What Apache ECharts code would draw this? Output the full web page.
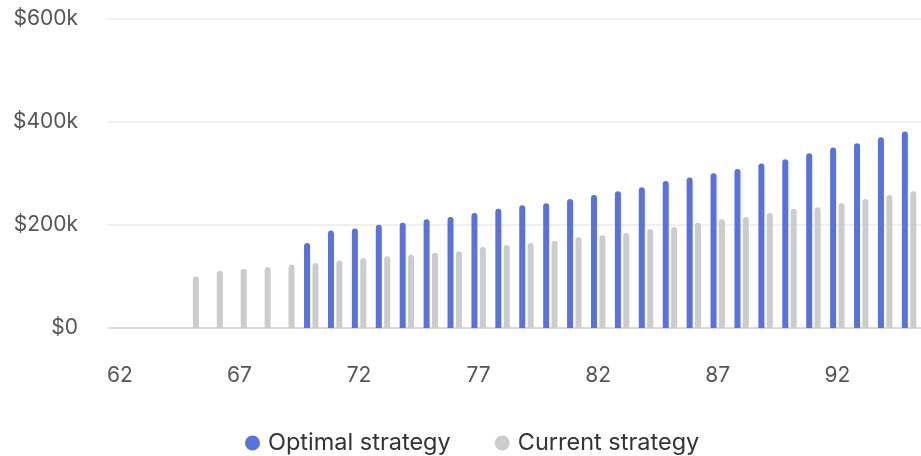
<!DOCTYPE html>
<html>
<head>
<meta charset="utf-8">
<script src="https://cdn.jsdelivr.net/npm/echarts@6/dist/echarts.min.js"></script>
<style>
html,body{margin:0;padding:0;background:#fff;}
#chart{width:921px;height:456px;}
</style>
</head>
<body>
<div id="chart"></div>
<script>
var ages = [62,63,64,65,66,67,68,69,70,71,72,73,74,75,76,77,78,79,80,81,82,83,84,85,86,87,88,89,90,91,92,93,94,95];
var optimalK = [null,null,null,null,null,null,null,null,165,189,193,200,204,211,215,223,231,238,242,250,258,265,273,285,292,300,308,319,327,339,350,358,370,381];
var currentK = [null,null,null,100,111,115,118,123,126,131,135,139,142,146,149,157,161,165,169,176,180,184,192,196,204,211,215,223,231,234,242,250,258,265];
var yTicks = [0, 200000, 400000, 600000];
var seriesNames = ['Optimal strategy', 'Current strategy'];

function toDollars(arr){ return arr.map(function(v){ return v == null ? null : v * 1000; }); }

var FONT = 'Inter, "Noto Sans", sans-serif';
var chart = echarts.init(document.getElementById('chart'));
chart.setOption({
  animation: false,
  backgroundColor: '#ffffff',
  grid: { left: 108, right: -10, top: 18.5, bottom: 128, containLabel: false },
  legend: {
    data: seriesNames,
    left: 240,
    top: 426,
    icon: 'circle',
    itemWidth: 15,
    itemHeight: 15,
    itemGap: 44,
    textStyle: { fontFamily: FONT, fontSize: 23.5, color: '#333333', padding: [0,0,0,3] }
  },
  xAxis: {
    type: 'category',
    data: ages.map(String),
    axisTick: { show: false },
    axisLine: { lineStyle: { color: '#d6d2ca', width: 1.5 } },
    axisLabel: { interval: 4, margin: 37, fontFamily: FONT, fontSize: 21, color: '#555555' }
  },
  yAxis: {
    type: 'value',
    min: yTicks[0],
    max: yTicks[yTicks.length - 1],
    interval: yTicks[1] - yTicks[0],
    axisLine: { show: false },
    axisTick: { show: false },
    splitLine: { lineStyle: { color: '#eeebe8', width: 1.5 } },
    axisLabel: {
      margin: 30, fontFamily: FONT, fontSize: 21, color: '#555555',
      formatter: function(v){ return v === 0 ? '$0' : '$' + (v/1000) + 'k'; }
    }
  },
  series: [
    {
      name: seriesNames[0], type: 'bar', data: toDollars(optimalK),
      barWidth: 6, barGap: '40%',
      itemStyle: { color: '#5872e0', borderRadius: [3,3,0,0] }
    },
    {
      name: seriesNames[1], type: 'bar', data: toDollars(currentK),
      barWidth: 6, barGap: '40%',
      itemStyle: { color: '#cccccc', borderRadius: [3,3,0,0] }
    }
  ]
});
</script>
</body>
</html>
